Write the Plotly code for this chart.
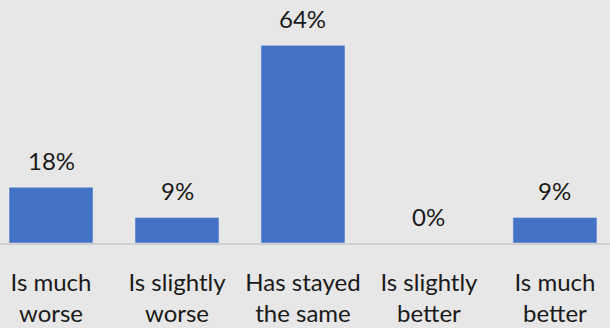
import plotly.graph_objects as go

categories = ["Is much<br>worse", "Is slightly<br>worse", "Has stayed<br>the same", "Is slightly<br>better", "Is much<br>better"]
values = [18.1, 8.3, 64.1, 0, 8.3]
value_labels = ["18%", "9%", "64%", "0%", "9%"]

FONT = "Lato"
x_idx = list(range(len(categories)))

fig = go.Figure()
fig.add_trace(go.Bar(
    x=x_idx, y=values, marker_color="#4472C4", width=0.667,
    hoverinfo="skip",
))
for i, (v, t) in enumerate(zip(values, value_labels)):
    fig.add_annotation(x=i, y=v, text=t, showarrow=False, yanchor="bottom",
                       yshift=10, font=dict(family=FONT, size=24, color="#1a1a1a"))

fig.update_layout(
    width=610, height=328,
    margin=dict(l=0, r=0, t=0, b=85),
    paper_bgcolor="#E7E7E7", plot_bgcolor="#E7E7E7",
    showlegend=False,
    xaxis=dict(range=[-0.405, 4.437], tickvals=x_idx, ticktext=categories,
               showline=True, linecolor="#CFCFCF", linewidth=1.5,
               showgrid=False, zeroline=False, ticks="",
               tickfont=dict(family=FONT, size=24, color="#1a1a1a"),
               ticklabelstandoff=17),
    yaxis=dict(range=[0, 78.8], visible=False, showgrid=False, zeroline=False),
)
fig.write_html("out.html")
